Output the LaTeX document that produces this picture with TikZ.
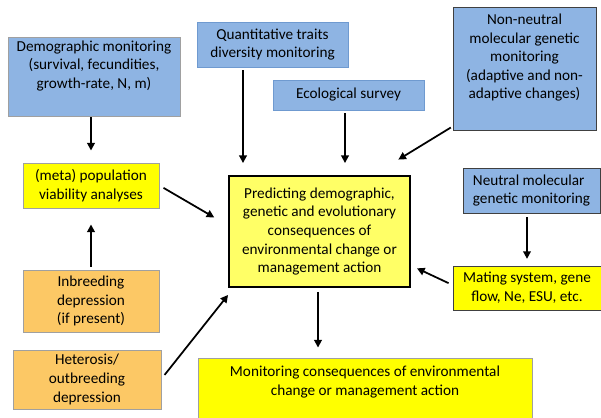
\documentclass[tikz,border=0pt]{standalone}
\usepackage{fontspec}
\setmainfont{Carlito}
\usetikzlibrary{arrows.meta}

\definecolor{monblue}{HTML}{8EB4E3}
\definecolor{blueedge}{HTML}{6F9AD0}
\definecolor{predyellow}{HTML}{FFFF66}
\definecolor{plainyellow}{HTML}{FFFF00}
\definecolor{inbreedorange}{HTML}{FCC865}
\definecolor{softgray}{HTML}{A0A0A0}
\definecolor{darkedge}{HTML}{404040}

\tikzset{
  panel/.style 2 args={rectangle, align=center, inner sep=0pt,
    minimum width=#1*0.03cm, minimum height=#2*0.03cm,
    font=\fontsize{13}{15.9}\selectfont, line width=0.8pt},
  greyblue/.style={fill=monblue, draw=softgray},
  bluepanel/.style={fill=monblue, draw=blueedge},
  darkblue/.style={fill=monblue, draw=darkedge},
  yellowpanel/.style={fill=plainyellow, draw=softgray},
  darkyellow/.style={fill=plainyellow, draw=darkedge},
  orangepanel/.style={fill=inbreedorange, draw=softgray},
  predpanel/.style={fill=predyellow, draw=black, line width=1.6pt},
  link/.style={line width=1.5pt, -{Triangle[length=6.5pt,width=6.5pt]}}
}

\begin{document}
\begin{tikzpicture}[x=0.03cm, y=-0.03cm]
\useasboundingbox (0,0) rectangle (601,417);

\node (demog) [panel={172}{79}, greyblue] at (94,76.5)
  {Demographic monitoring\\(survival, fecundities,\\growth-rate, N, m)\\\strut};
\node (quant) [panel={151}{45}, bluepanel] at (272.5,44.5)
  {Quantitative traits\\diversity monitoring};
\node (eco) [panel={151}{30}, bluepanel] at (348.5,95) {Ecological survey};
\node (nonneu) [panel={143}{123}, darkblue] at (524.5,68.5)
  {Non-neutral\\molecular genetic\\monitoring\\(adaptive and non-\\adaptive changes)\\\strut};
\node (neutral) [panel={137}{45}, darkblue, align=left] at (531.5,190.5)
  {Neutral molecular\\genetic monitoring};
\node (meta) [panel={136}{45}, yellowpanel] at (91,185.5)
  {(meta) population\\viability analyses};
\node (main) [panel={181}{111}, predpanel] at (319.5,231.5)
  {Predicting demographic,\\genetic and evolutionary\\consequences of\\environmental change or\\management action};
\node (mating) [panel={148}{44}, darkyellow] at (527,288)
  {Mating system, gene\\flow, Ne, ESU, etc.};
\node (inbreed) [panel={136}{62}, orangepanel] at (91,301)
  {Inbreeding\\depression\\(if present)};
\node (hetero) [panel={148}{59}, orangepanel] at (87,379.5)
  {Heterosis/\\outbreeding\\depression};
\node (monitor) [panel={334}{88}, yellowpanel] at (365,402)
  {Monitoring consequences of environmental\\change or management action\\\strut\\\strut};

\draw[link, shorten <=0.03cm, shorten >=0.36cm] (demog.south -| meta.north) -- (meta.north);
\draw[link, shorten <=0.09cm, shorten >=0.48cm] (inbreed.north) -- (meta.south);
\draw[link, shorten <=0.14cm, shorten >=0.48cm] (meta.east) -- ([yshift=0.18cm]main.west);
\draw[link, shorten <=0.09cm, shorten >=0.36cm] ([xshift=-0.885cm]quant.south) -- ([xshift=-0.885cm]quant.south |- main.north);
\draw[link, shorten <=0.09cm, shorten >=0.36cm] ([xshift=-0.105cm]eco.south) -- ([xshift=-0.105cm]eco.south |- main.north);
\draw[link, shorten <=0.06cm, shorten >=0.89cm] ([yshift=0.12cm]nonneu.south west) -- ([xshift=1.605cm]main.north);
\draw[link, shorten <=0.12cm, shorten >=0.2cm] (neutral.south -| mating.north) -- (mating.north);
\draw[link, shorten <=0.13cm, shorten >=0.2cm] ([yshift=0.09cm]mating.west) -- ([yshift=-1.02cm]main.east);
\draw[link, shorten <=0.15cm] ([yshift=0.02cm]hetero.east) -- ([yshift=-0.21cm]main.south west);
\draw[link, shorten <=0.12cm, shorten >=0.3cm] ([xshift=-0.045cm]main.south) -- ([xshift=-0.045cm]main.south |- monitor.north);
\end{tikzpicture}
\end{document}
